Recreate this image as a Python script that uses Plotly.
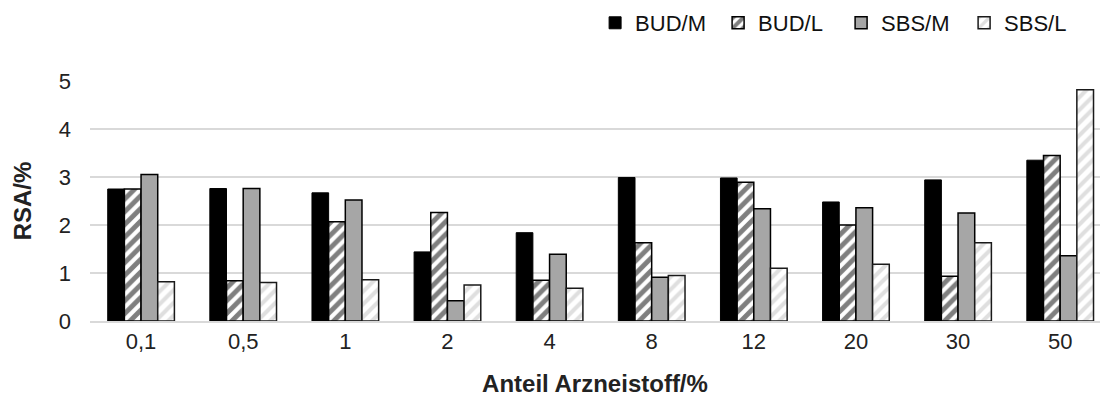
import plotly.graph_objects as go

categories = ["0,1", "0,5", "1", "2", "4", "8", "12", "20", "30", "50"]
bud_m = [2.75, 2.76, 2.67, 1.44, 1.84, 2.99, 2.98, 2.48, 2.94, 3.35]
bud_l = [2.75, 0.84, 2.07, 2.26, 0.85, 1.63, 2.89, 2.00, 0.93, 3.45]
sbs_m = [3.05, 2.76, 2.52, 0.42, 1.39, 0.91, 2.34, 2.36, 2.25, 1.36]
sbs_l = [0.82, 0.80, 0.86, 0.75, 0.68, 0.95, 1.10, 1.18, 1.63, 4.82]

FONT = "Liberation Sans, Arial, sans-serif"
fig = go.Figure()
fig.add_bar(name="BUD/M", x=categories, y=bud_m,
            marker=dict(color="#000000", line=dict(color="#000000", width=1)))
fig.add_bar(name="BUD/L", x=categories, y=bud_l,
            marker=dict(color="#ffffff", line=dict(color="#000000", width=1.5),
                        pattern=dict(shape="/", fgcolor="#000000", bgcolor="#ffffff",
                                     size=9, solidity=0.55)))
fig.add_bar(name="SBS/M", x=categories, y=sbs_m,
            marker=dict(color="#a6a6a6", line=dict(color="#000000", width=1.5)))
fig.add_bar(name="SBS/L", x=categories, y=sbs_l,
            marker=dict(color="#ffffff", line=dict(color="#1a1a1a", width=1.5),
                        pattern=dict(shape="/", fgcolor="#c0c0c0", bgcolor="#ffffff",
                                     size=9, solidity=0.45)))

fig.update_layout(
    width=1100, height=399,
    margin=dict(l=90, r=0, t=81, b=78, autoexpand=False),
    paper_bgcolor="#ffffff", plot_bgcolor="#ffffff",
    barmode="group", bargap=0.347, bargroupgap=0,
    font=dict(family=FONT, size=22, color="#222222"),
    legend=dict(orientation="h", xref="container", yref="container",
                x=0.541, xanchor="left", y=0.995, yanchor="top",
                font=dict(size=22, color="#111111"), itemwidth=30,
                entrywidth=78, entrywidthmode="pixels", bgcolor="rgba(0,0,0,0)"),
    xaxis=dict(range=[-0.5, 9.39], showgrid=False, showline=True, linecolor="#d9d9d9",
               linewidth=1.5, ticks="", tickfont=dict(size=22, color="#222222"),
               ticklabelstandoff=0, automargin=False,
               title=dict(text="<b>Anteil Arzneistoff/%</b>", font=dict(size=24, color="#222222"),
                          standoff=22)),
    yaxis=dict(range=[0, 5], dtick=1, showgrid=True, gridcolor="#d9d9d9", gridwidth=1.5,
               zeroline=False, showline=False, ticks="", tickfont=dict(size=22, color="#222222"),
               ticklabelstandoff=18, automargin=False,
               title=dict(text="<b>RSA/%</b>", font=dict(size=24, color="#222222"), standoff=20)),
)

fig.write_html("out.html", config={"displayModeBar": False},
               post_script="document.body.style.margin='0';document.body.style.padding='0';")
